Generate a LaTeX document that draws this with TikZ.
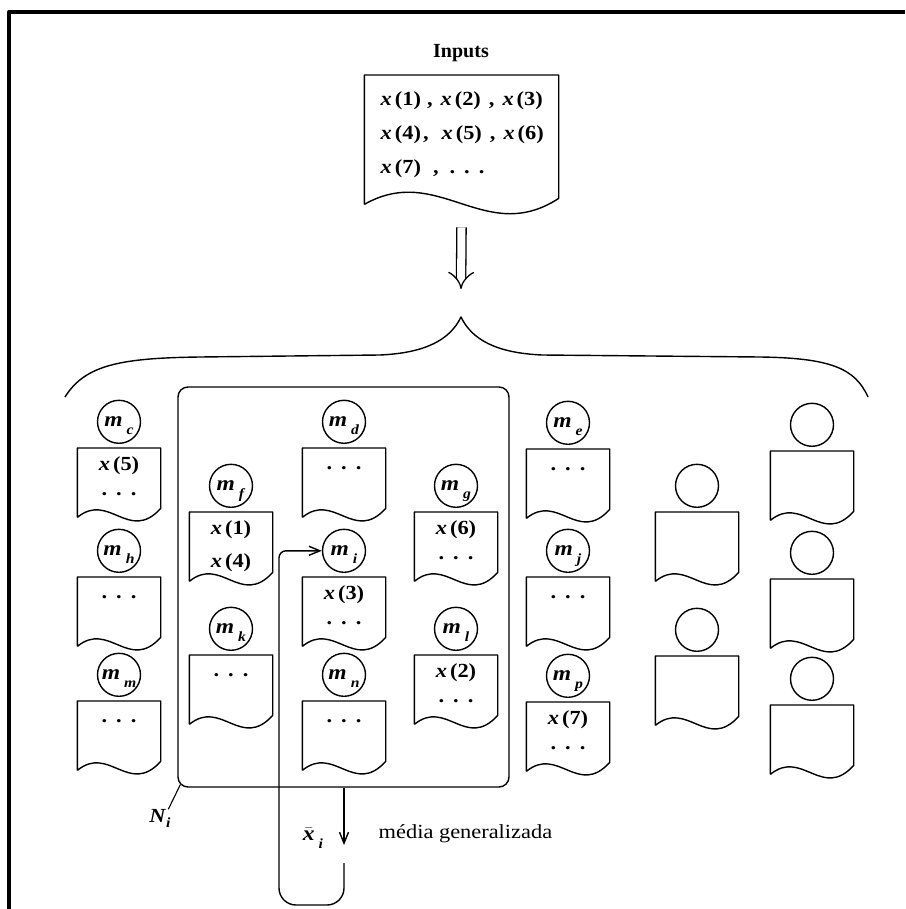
\documentclass[tikz,border=0pt]{standalone}
\usepackage{fontspec}
\setmainfont{Liberation Serif}[FakeStretch=1.12]
\newfontfamily\headfont{Liberation Serif}
\usetikzlibrary{arrows.meta,calc,positioning}

\newcommand\xv[1]{\textit{x}\hspace{3pt}(#1)}
\newcommand\dts{.\hspace{9pt}.\hspace{9pt}.}
\newcommand\mlab[1]{\textit{m}\hspace{4pt}\raisebox{-8pt}{\fontsize{14}{14}\selectfont\textit{#1}}}
% outline of a document box: node, depth of the wave, rise of the right corner
\newcommand\docline[3]{%
  \draw (#1.south west) -- (#1.north west) -- (#1.north east) -- ([yshift=#3]#1.south east)
    .. controls ($(#1.south west)!0.62!(#1.south east)+(0,#2)$)
    and ($(#1.south west)!0.38!(#1.south east)-(0,#2)$) .. (#1.south west);}

\begin{document}
\begin{tikzpicture}[x=1pt, y=-1pt, line width=1.4pt, line join=round,
  docbox/.style={anchor=north, minimum width=82pt, minimum height=68pt, inner sep=0pt},
  mem/.style={circle, draw, minimum size=43pt, inner sep=0pt, text height=9pt, text depth=0pt,
    font=\bfseries\fontsize{21}{21}\selectfont},
  cell/.style={inner sep=0pt, text height=14pt, text depth=4pt, font=\bfseries\fontsize{20}{20}\selectfont},
  barb/.style={-{Straight Barb[length=11pt,width=9pt]}}]
\useasboundingbox (0,0) rectangle (905,909);

% frame
\draw[line width=4pt] (9,909) -- (9,12) -- (905,12);

% inputs
\node[font=\headfont\bfseries\fontsize{20}{20}\selectfont] (inlab) at (461,53) {Inputs};
\node[docbox, minimum width=193pt, minimum height=128pt] (inp) at (461.5,75) {};
\docline{inp}{42}{6pt}
\node[anchor=north west, inner sep=0pt, align=left, font=\bfseries\fontsize{20}{34}\selectfont] (intxt) at (380,91)
  {\xv1\hspace{6pt},\hspace{8pt}\xv2\hspace{8pt},\hspace{8pt}\xv3\\
   \xv4\hspace{2pt},\hspace{13pt}\xv5\hspace{8pt},\hspace{8pt}\xv6\\
   \xv7\hspace{12pt},\hspace{11pt}\dts};

% brace
\coordinate (tip) at (461,317);
\draw[double, double distance=8pt, line width=1.3pt, -{Implies}] ([yshift=-23pt]inp.south) -- ([yshift=28pt]tip);
\draw (65,397) .. controls (85,365) and (120,358) .. (200,357) -- (380,355)
  .. controls (425,353) and (450,340) .. (tip)
  .. controls (472,340) and (497,353) .. (542,355) -- (760,357)
  .. controls (830,358) and (855,368) .. (868,397);

% memories with their boxes
\foreach \s/\x/\y in {c/119/448, h/119/577, m/119/701, f/231/512, k/231/655,
                      d/344/448, i/344/577, n/344/701, g/456/512, l/456/655,
                      e/568/449, j/568/577, p/568/702} {
  \node[docbox] (b\s) at (\x,\y) {};
  \docline{b\s}{26}{9pt}
  \node[mem, above=4pt of b\s.north] (m\s) {\mlab{\s}};
}
\foreach \s/\x/\y in {u1/697/512, u2/697/656, v1/812/451, v2/812/579, v3/812/705} {
  \node[docbox] (b\s) at (\x,\y) {};
  \docline{b\s}{26}{9pt}
  \node[mem, above=4pt of b\s.north] (m\s) {};
}

% contents of the boxes
\foreach \b/\t in {bc/\xv5, bf/\xv1, bg/\xv6, bi/\xv3, bl/\xv2, bp/\xv7}
  \node[cell] (\b-1) at ([yshift=-17pt]\b.north) {\t};
\foreach \b in {bc, bg, bi, bl, bp}
  \node[cell] (\b-2) at ([yshift=-42pt]\b.north) {\dts};
\node[cell] (bf-2) at ([yshift=-50pt]bf.north) {\xv4};
\foreach \b in {bd, be, bh, bm, bn, bk, bj}
  \node[cell] (\b-1) at ([yshift=-16pt]\b.north) {\dts};

% neighbourhood N_i
\node[draw, rounded corners=10pt, minimum width=331pt, minimum height=400pt, inner sep=0pt] (Ni) at (343.5,587) {};
\node[inner sep=1pt, font=\bfseries\fontsize{20}{20}\selectfont] (nlab) at (160,818)
  {\textit{N}\raisebox{-5pt}{\fontsize{14}{14}\selectfont\textit{i}}};
\draw[line width=1.1pt] ([shift={(-4pt,-2pt)}]nlab.north east) -- ([shift={(3pt,3pt)}]Ni.south west);

% generalized mean fed back to m_i
\coordinate (xo) at (344,845);
\coordinate (fb) at (344,863);
\coordinate (lp) at (279,905);
\draw[barb] (Ni.south -| mi) -- (xo);
\node[font=\bfseries\fontsize{21}{21}\selectfont] (xbar) at (313,838)
  {$\bar{\mbox{\textit{x}}}$\hspace{4pt}\raisebox{-8pt}{\fontsize{14}{14}\selectfont\textit{i}}};
\node[anchor=base west, inner sep=0pt, font=\fontsize{20}{20}\selectfont] (media) at (378,838) {média generalizada};
\draw[barb, rounded corners=17pt] (fb) -- (fb |- lp) -- (lp) [rounded corners=7pt] -- (lp |- mi) -- (mi);
\end{tikzpicture}
\end{document}
